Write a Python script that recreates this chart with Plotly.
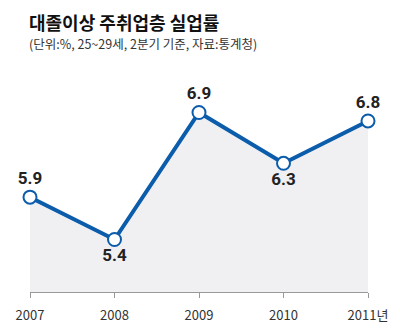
import plotly.graph_objects as go

years = [2007, 2008, 2009, 2010, 2011]
rates = [5.9, 5.4, 6.9, 6.3, 6.8]
tick_labels = ["2007", "2008", "2009", "2010", "2011년"]
label_pos = ["top center", "bottom center", "top center", "bottom center", "top center"]

title = "대졸이상 주취업층 실업률"
subtitle = "(단위:%, 25~29세, 2분기 기준, 자료:통계청)"

blue = "#0b5cab"

fig = go.Figure()
fig.add_trace(go.Scatter(
    x=years, y=rates, mode="lines+markers+text",
    fill="tozeroy", fillcolor="#f0f0f3",
    line=dict(color=blue, width=4),
    marker=dict(size=13, color="white", line=dict(color=blue, width=2)),
    text=[f"<b>{v:.1f}</b>" for v in rates], textposition=label_pos,
    textfont=dict(family="Liberation Sans Narrow, Roboto, sans-serif", size=17, color="#222222"),
    cliponaxis=False, hoverinfo="skip",
))

fig.update_layout(
    width=400, height=336,
    margin=dict(l=30, r=30, t=60, b=40),
    paper_bgcolor="white", plot_bgcolor="white",
    showlegend=False,
    xaxis=dict(range=[2007, 2011], tickvals=years, ticktext=tick_labels,
               showgrid=False, zeroline=False, showline=True, linecolor="#999999", linewidth=1,
               ticks="outside", ticklen=5, tickcolor="#999999", ticklabelstandoff=6,
               tickfont=dict(family="Liberation Sans Narrow, Noto Sans CJK KR, sans-serif", size=13, color="#333333")),
    yaxis=dict(range=[4.78, 7.52], visible=False, showgrid=False, zeroline=False),
    annotations=[
        dict(text="<b>" + title + "</b>", xref="paper", yref="paper", x=-0.01, y=1.0,
             yshift=38, xanchor="left", yanchor="middle", showarrow=False,
             font=dict(family="Noto Sans CJK KR", size=18, color="#111111")),
        dict(text=subtitle, xref="paper", yref="paper", x=-0.01, y=1.0,
             yshift=17, xanchor="left", yanchor="middle", showarrow=False,
             font=dict(family="Noto Sans CJK KR", size=12.5, color="#333333")),
    ],
)

fig.write_html("out.html")
